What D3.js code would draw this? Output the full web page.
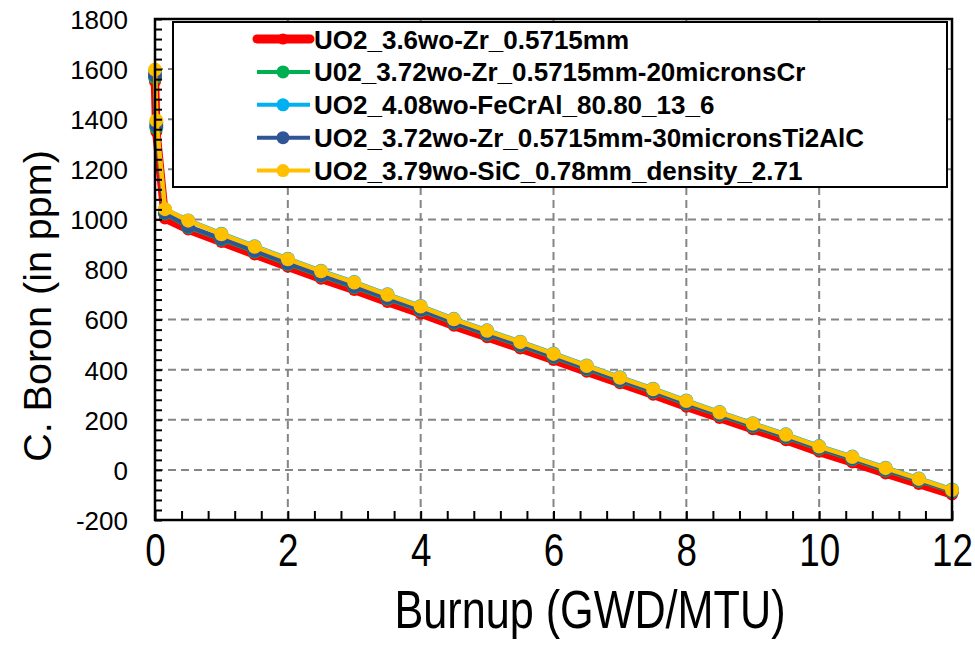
<!DOCTYPE html>
<html>
<head>
<meta charset="utf-8">
<script src="https://cdn.jsdelivr.net/npm/d3@7"></script>
<style>
  html, body { margin: 0; padding: 0; background: #fff; }
  svg { display: block; }
</style>
</head>
<body>
<svg id="chart" width="975" height="646"></svg>
<script>
// Burnup steps (GWD/MTU)
const burnup = [0, 0.02, 0.15, 0.5, 1, 1.5, 2, 2.5, 3, 3.5, 4, 4.5, 5, 5.5, 6, 6.5, 7, 7.5, 8, 8.5, 9, 9.5, 10, 10.5, 11, 11.5, 12];

// Critical boron concentration (ppm) for each cladding / fuel option
const boronZr      = [1550, 1350, 1004, 960, 910, 860, 811, 763, 718, 670, 624, 575, 530, 485, 439, 392, 346, 300, 252, 207, 162, 118, 72, 30, -14, -56, -98];
const boronZrCr    = [1567, 1366, 1024, 969, 920, 872, 822, 775, 730, 683, 637, 587, 541, 496, 450, 403, 356, 311, 264, 219, 174, 130, 84, 42, -2, -44, -86];
const boronFeCrAl  = [1588, 1386, 1040, 996, 943, 893, 843, 795, 750, 701, 654, 603, 557, 512, 465, 417, 370, 324, 277, 231, 186, 142, 95, 53, 9, -34, -78];
const boronZrTi2AlC= [1575, 1374, 1027, 972, 923, 875, 825, 778, 733, 686, 640, 590, 544, 499, 453, 406, 359, 314, 267, 222, 177, 133, 87, 45, 1, -41, -84];
const boronSiC     = [1598, 1395, 1041, 995, 941, 891, 841, 793, 748, 699, 652, 601, 555, 510, 463, 415, 368, 322, 275, 229, 184, 140, 93, 51, 7, -36, -80];

const seriesNames = [
  "UO2_3.6wo-Zr_0.5715mm",
  "U02_3.72wo-Zr_0.5715mm-20micronsCr",
  "UO2_4.08wo-FeCrAl_80.80_13_6",
  "UO2_3.72wo-Zr_0.5715mm-30micronsTi2AlC",
  "UO2_3.79wo-SiC_0.78mm_density_2.71"
];
const seriesValues = [boronZr, boronZrCr, boronFeCrAl, boronZrTi2AlC, boronSiC];
const seriesColors = ["#FF0000", "#00B050", "#00B0F0", "#2F5597", "#FFC000"];

const xTickLabels = [0, 2, 4, 6, 8, 10, 12];
const yTickLabels = [-200, 0, 200, 400, 600, 800, 1000, 1200, 1400, 1600, 1800];

const xTitle = "Burnup (GWD/MTU)";
const yTitle = "C. Boron (in ppm)";

// ---- layout ----
const W = 975, H = 646;
const m = { left: 155, right: 23, top: 19, bottom: 126 };
const svg = d3.select("#chart");

const x = d3.scaleLinear().domain([0, 12]).range([m.left, W - m.right]);
const y = d3.scaleLinear().domain([-200, 1800]).range([H - m.bottom, m.top]);

const font = "'Liberation Sans', Arial, sans-serif";
const squeeze = 0.8; // horizontal condensing of the x-axis texts

// dashed gridlines
const grid = svg.append("g").attr("stroke", "#858585").attr("stroke-width", 2)
  .attr("stroke-dasharray", "8,5");
grid.selectAll("line.h")
  .data(yTickLabels.filter(v => v > -200 && v < 1800))
  .join("line").attr("class", "h")
  .attr("x1", x(0)).attr("x2", x(12))
  .attr("y1", d => y(d)).attr("y2", d => y(d));
grid.selectAll("line.v")
  .data(xTickLabels.filter(v => v > 0 && v < 12))
  .join("line").attr("class", "v")
  .attr("y1", y(-200)).attr("y2", y(1800))
  .attr("x1", d => x(d)).attr("x2", d => x(d));

// series: line then markers, later series drawn on top
const lineGen = d3.line().x(d => x(d[0])).y(d => y(d[1]));
seriesValues.forEach((vals, i) => {
  const pts = burnup.map((b, k) => [b, vals[k]]);
  const g = svg.append("g");
  g.append("path")
    .datum(pts)
    .attr("fill", "none")
    .attr("stroke", seriesColors[i])
    .attr("stroke-width", i === 0 ? 8.5 : 4.5)
    .attr("stroke-linejoin", "round")
    .attr("d", lineGen);
  g.selectAll("circle").data(pts).join("circle")
    .attr("cx", d => x(d[0])).attr("cy", d => y(d[1]))
    .attr("r", i === 0 ? 6 : 7)
    .attr("fill", seriesColors[i]);
});

// axes with inward ticks
const xMinor = d3.range(0, 12.001, 0.4);
const yMinor = d3.range(-200, 1800.001, 40);

const xAxisG = svg.append("g").attr("transform", `translate(0,${y(-200)})`)
  .call(d3.axisBottom(x).tickValues(xMinor).tickSize(-9).tickFormat(""));
xAxisG.select(".domain").remove();
xAxisG.selectAll("line").attr("stroke", "#000").attr("stroke-width", 2);

const yAxisG = svg.append("g").attr("transform", `translate(${x(0)},0)`)
  .call(d3.axisLeft(y).tickValues(yMinor).tickSize(-7).tickFormat(""));
yAxisG.select(".domain").remove();
yAxisG.selectAll("line").attr("stroke", "#000").attr("stroke-width", 2);

// plot frame
svg.append("rect")
  .attr("x", x(0)).attr("y", y(1800))
  .attr("width", x(12) - x(0)).attr("height", y(-200) - y(1800))
  .attr("fill", "none").attr("stroke", "#000").attr("stroke-width", 2.5);

// tick labels (plain hyphen for negatives)
const plain = d => String(d);
const xLab = svg.append("g").attr("transform", `translate(0,${y(-200)})`)
  .call(d3.axisBottom(x).tickValues(xTickLabels).tickSize(0).tickPadding(0).tickFormat(plain));
xLab.select(".domain").remove();
xLab.selectAll("text")
  .attr("font-family", font).attr("font-size", 46).attr("fill", "#000")
  .attr("y", 0).attr("dy", 0)
  .attr("transform", `translate(0,46) scale(${squeeze},1)`);

const yLab = svg.append("g").attr("transform", `translate(128,0)`)
  .call(d3.axisLeft(y).tickValues(yTickLabels).tickSize(0).tickPadding(0).tickFormat(plain));
yLab.select(".domain").remove();
yLab.selectAll("text").attr("font-family", font).attr("font-size", 26).attr("fill", "#000")
  .attr("x", 0).attr("dy", "0.36em");

// axis titles
svg.append("text")
  .attr("transform", `translate(590,628) scale(${squeeze},1)`)
  .attr("text-anchor", "middle")
  .attr("font-family", font).attr("font-size", 54).attr("fill", "#000")
  .text(xTitle);
svg.append("text")
  .attr("transform", `translate(51,306) rotate(-90)`)
  .attr("text-anchor", "middle")
  .attr("font-family", font).attr("font-size", 39.5).attr("fill", "#000")
  .text(yTitle);

// legend
const lg = svg.append("g");
lg.append("rect")
  .attr("x", 173).attr("y", 22).attr("width", 774).attr("height", 165)
  .attr("fill", "#fff").attr("stroke", "#000").attr("stroke-width", 2);
seriesNames.forEach((name, i) => {
  const cy = 39 + i * 32.9;
  lg.append("line")
    .attr("x1", 257).attr("x2", 310).attr("y1", cy).attr("y2", cy)
    .attr("stroke", seriesColors[i]).attr("stroke-width", i === 0 ? 9 : 4)
    .attr("stroke-linecap", i === 0 ? "round" : "butt");
  lg.append("circle").attr("cx", 283).attr("cy", cy).attr("r", i === 0 ? 5.5 : 6.5)
    .attr("fill", seriesColors[i]);
  lg.append("text")
    .attr("x", 314).attr("y", cy + 9.5)
    .attr("font-family", font).attr("font-weight", "bold").attr("font-size", 26)
    .attr("fill", "#000")
    .text(name);
});
</script>
</body>
</html>
